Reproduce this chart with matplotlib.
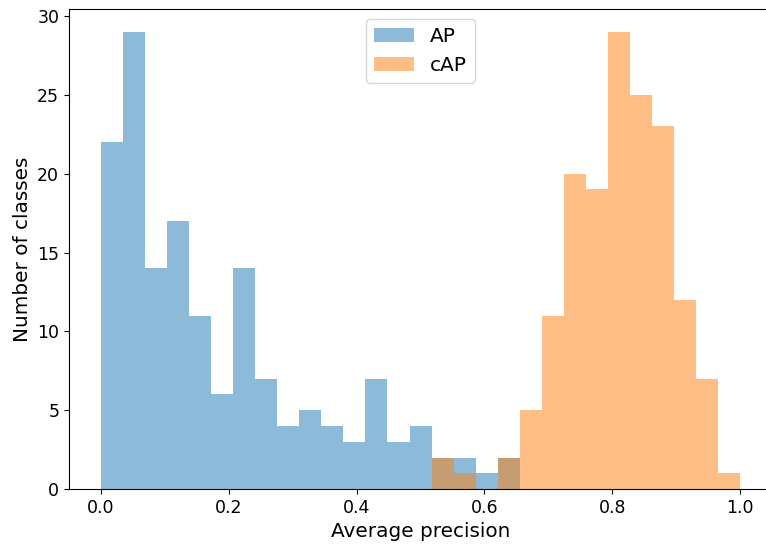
import matplotlib
matplotlib.use('Agg')
import matplotlib.pyplot as plt
import numpy as np

# histogram bin edges (29 bins over 0..1)
edges = np.linspace(0, 1, 30)

# counts per bin
ap_counts = [22, 29, 14, 17, 11, 6, 14, 7, 4, 5, 4, 3, 7, 3, 4, 2, 2, 1, 2,
             0, 0, 0, 0, 0, 0, 0, 0, 0, 0]
cap_counts = [0, 0, 0, 0, 0, 0, 0, 0, 0, 0, 0, 0, 0, 0, 0, 2, 1, 0, 2,
              5, 11, 20, 19, 29, 25, 23, 12, 7, 1]

centers = (edges[:-1] + edges[1:]) / 2

fig = plt.figure(figsize=(7.66, 5.44), dpi=100)
ax = fig.add_axes([0.090, 0.101, 0.918, 0.8825])

ax.hist(centers, bins=edges, weights=ap_counts, color='C0', alpha=0.5,
        label='AP')
ax.hist(centers, bins=edges, weights=cap_counts, color='C1', alpha=0.5,
        label='cAP')

ax.set_xlim(-0.05, 1.05)
ax.set_ylim(0, 30.45)
ax.set_xticks([0.0, 0.2, 0.4, 0.6, 0.8, 1.0])
ax.set_yticks([0, 5, 10, 15, 20, 25, 30])
ax.tick_params(labelsize=12.5)
ax.set_xlabel('Average precision', fontsize=14.4)
ax.set_ylabel('Number of classes', fontsize=14.4)
ax.legend(loc='upper center', fontsize=14.5)

fig.savefig('out.png', dpi=100)
